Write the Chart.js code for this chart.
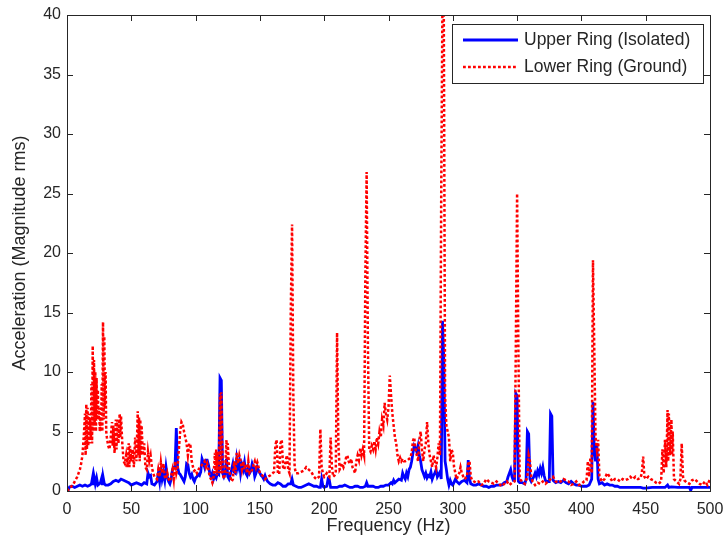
<!DOCTYPE html>
<html>
<head>
<meta charset="utf-8">
<script src="https://cdn.jsdelivr.net/npm/chart.js@4"></script>
<style>
html,body{margin:0;padding:0;background:#fff;}
#wrap{width:723px;height:539px;position:relative;}
</style>
</head>
<body>
<div id="wrap"><canvas id="c" width="723" height="539"></canvas></div>
<script>
// ---- data (frequency Hz, acceleration) ----
const seriesNames = ["Upper Ring (Isolated)", "Lower Ring (Ground)"];
const xTicks = [0, 50, 100, 150, 200, 250, 300, 350, 400, 450, 500];
const yTicks = [0, 5, 10, 15, 20, 25, 30, 35, 40];
const xTitle = "Frequency (Hz)";
const yTitle = "Acceleration (Magnitude rms)";

const upperRing = [
[0,0],[1,0.1],[2,0.35],[4,0.4],[6,0.3],[8,0.4],[10,0.5],[12,0.4],[14,0.5],[16,0.4],[18,0.5],[19,0.6],
[20,1.2],[20.5,0.5],[21,1.2],[22,0.6],[23,1.1],[24,0.5],[25,0.6],[26,0.7],[27,1.1],[27.5,0.5],[28,1.2],[29,0.6],
[30,0.5],[32,0.5],[34,0.6],[36,0.8],[38,0.9],[40,0.8],[42,1.0],[44,0.9],[46,0.8],[48,0.7],[50,0.5],[52,0.6],
[54,0.7],[56,0.6],[58,0.5],[60,0.7],[62,0.6],[63,1.5],[64,1.2],[65,1.3],[66,0.6],[68,0.5],[70,0.8],[71,1.5],
[72,0.8],[73,2.0],[74,1.0],[75,1.5],[76,0.9],[77,2.0],[78,1.2],[79,0.8],[80,0.6],[81,1.0],[82,1.8],[83,2.0],
[84,2.0],[85,5.3],[86,2.0],[87,1.5],[88,1.4],[89,1.2],[90,1.0],[91,0.8],[92,1.2],[93,2.3],[94,2.2],[95,1.5],
[96,1.2],[97,1.4],[98,1.0],[99,0.8],[100,1.1],[101,1.2],[102,1.4],[103,1.3],[104,1.6],[105,2.7],[106,2.4],
[107,2.0],[108,2.6],[109,2.6],[110,2.2],[111,1.5],[112,1.2],[113,1.5],[114,1.0],[115,1.3],[116,1.1],[117,1.5],
[118,1.4],[119,9.5],[120,9.3],[121,1.5],[122,1.2],[123,1.5],[124,2.7],[125,1.2],[126,1.0],[127,1.4],[128,1.8],
[129,2.3],[130,1.6],[131,1.5],[132,2.7],[133,2.0],[134,2.5],[135,1.5],[136,2.2],[137,1.8],[138,2.4],[139,1.5],
[140,1.3],[141,2.0],[142,1.5],[143,1.7],[144,2.3],[145,2.0],[146,1.2],[147,1.5],[148,2.0],[149,1.7],[150,1.5],
[151,1.3],[152,1.2],[153,1.0],[154,1.3],[155,1.0],[156,0.8],[158,0.6],[160,0.5],[162,0.5],[164,0.7],[166,0.6],
[168,0.4],[170,0.4],[172,0.6],[174,0.6],[175,1.0],[176,0.5],[178,0.4],[180,0.3],[182,0.3],[184,0.4],[186,0.5],
[188,0.6],[190,0.5],[192,0.4],[194,0.4],[196,0.3],[197,0.3],[198,1.0],[199,0.4],[200,0.3],[202,0.4],[203,1.0],
[204,0.9],[205,0.3],[206,0.3],[208,0.3],[210,0.3],[212,0.4],[214,0.4],[216,0.5],[218,0.4],[220,0.3],[222,0.3],
[224,0.4],[226,0.4],[228,0.3],[230,0.3],[232,0.4],[233,0.7],[234,0.4],[236,0.4],[238,0.4],[240,0.3],[242,0.3],
[244,0.4],[246,0.4],[248,0.5],[250,0.5],[252,0.7],[253,0.6],[254,0.9],[255,0.7],[256,0.8],[258,1.0],[260,0.9],
[261,1.5],[262,1.2],[263,1.0],[264,1.5],[265,1.2],[266,1.8],[267,2.0],[268,2.5],[269,3.2],[270,3.8],[271,3.6],
[272,3.3],[273,3.8],[274,3.0],[275,2.5],[276,1.8],[277,1.5],[278,1.2],[279,1.5],[280,1.1],[281,1.3],[282,1.2],
[283,1.6],[284,1.0],[285,1.3],[286,1.5],[287,1.8],[288,1.2],[289,1.4],[290,1.6],[291,1.0],[292,14.3],[293,11],
[294,2.5],[295,1.8],[296,1.0],[297,0.5],[298,0.9],[299,0.6],[300,0.5],[302,1.0],[303,0.8],[305,0.6],[307,0.8],
[309,0.9],[311,0.7],[312,2.6],[313,1.0],[314,0.6],[316,0.5],[318,0.5],[320,0.6],[322,0.5],[324,0.4],[326,0.4],
[328,0.3],[330,0.4],[332,0.4],[334,0.5],[336,0.5],[338,0.5],[340,0.7],[342,0.8],[343,1.2],[344,1.5],[345,1.8],
[346,1.2],[347,0.9],[348,0.9],[349,8.2],[350,8.0],[351,0.8],[352,0.7],[354,0.7],[356,0.6],[357,1.0],[358,5.0],
[359,4.8],[360,1.0],[361,0.8],[362,1.0],[363,1.2],[364,1.5],[365,1.2],[366,1.7],[367,1.4],[368,1.9],[369,1.5],
[370,2.0],[371,1.3],[372,0.9],[373,0.8],[374,0.8],[375,0.8],[376,6.5],[377,6.3],[378,0.9],[380,0.7],[382,0.8],
[384,0.7],[386,0.9],[388,0.7],[390,0.6],[392,0.8],[394,0.6],[396,0.5],[398,0.5],[400,0.4],[402,0.4],[404,0.4],
[406,0.5],[408,1.0],[409,7.5],[410,3.5],[411,2.5],[412,4.0],[413,1.0],[414,0.6],[416,0.7],[418,0.5],[420,0.6],
[422,0.5],[424,0.5],[426,0.4],[428,0.4],[430,0.3],[432,0.3],[434,0.3],[436,0.3],[438,0.3],[440,0.3],[442,0.3],
[444,0.3],[446,0.3],[448,0.25],[450,0.25],[455,0.3],[460,0.3],[465,0.3],[467,0.5],[468,0.3],[470,0.35],
[475,0.3],[480,0.3],[484,0.3],[485,0.05],[486,0.3],[490,0.3],[495,0.3],[500,0.3]
];

const lowerRing = [
[0,0],[2,0.2],[5,0.6],[8,1.2],[10,1.8],[11,2.3],[12,3.0],[13,4.5],
[14,6.5],[14.5,3.0],[15,7.3],[15.5,3.5],[16,7.0],[16.5,3.8],[17,6.5],[17.5,4.0],[18,6.0],[18.5,4.5],
[19,9.0],[19.5,4.0],[20,12.2],[20.5,5.0],[21,11.0],[21.5,5.5],[22,10.0],[22.5,5.0],[23,9.5],[23.5,6.0],
[24,8.5],[24.5,6.0],[25,7.0],[25.5,5.0],[26,6.0],[26.5,5.0],[27,9.0],[27.5,5.0],[28,14.2],[28.5,6.0],
[29,13.0],[29.5,7.0],[30,10.0],[30.5,5.0],[31,4.5],[32,3.8],[33,3.5],[34,4.5],[35,5.8],[35.5,3.8],[36,5.5],
[37,3.2],[38,6.0],[38.5,3.5],[39,6.0],[40,4.0],[41,6.5],[41.5,4.5],[42,6.3],[43,4.0],[44,2.5],[45,2.3],
[46,3.0],[47,2.0],[48,4.0],[48.5,2.0],[49,3.8],[50,2.5],[51,3.5],[52,2.0],[53,4.5],[54,2.5],[55,6.7],
[55.5,3.0],[56,6.2],[56.5,2.5],[57,6.0],[57.5,3.0],[58,5.5],[59,3.0],[60,4.0],[61,2.0],[62,1.8],[63,3.3],
[64,2.5],[65,3.0],[66,2.0],[67,1.5],[68,1.2],[70,1.0],[71,1.8],[72,1.2],[73,2.4],[74,1.5],[75,2.3],[76,1.2],
[77,1.0],[78,1.5],[79,1.0],[80,0.8],[82,1.8],[83,1.0],[84,2.5],[85,1.5],[86,2.0],[87,3.5],[88,5.0],[89,5.8],
[90,5.6],[91,5.0],[92,4.5],[93,4.0],[94,3.0],[95,4.0],[96,3.8],[97,2.5],[98,2.0],[99,1.7],[100,1.8],[101,1.5],
[102,1.7],[103,2.0],[105,2.2],[107,2.5],[108,2.0],[109,2.3],[110,1.8],[111,1.2],[112,1.0],[113,0.7],[114,1.2],
[115,3.2],[115.5,1.5],[116,3.5],[116.5,1.3],[117,3.3],[118,1.5],[119,8.2],[119.5,1.5],[120,8.3],[121,1.5],
[122,1.0],[123,1.5],[124,4.3],[124.5,1.5],[125,4.0],[126,2.0],[127,1.2],[128,0.8],[129,1.0],[130,2.5],
[131,1.5],[132,3.2],[133,2.3],[134,3.0],[135,2.5],[136,1.8],[137,2.5],[138,1.8],[139,2.3],[140,1.5],[141,2.5],
[142,1.5],[143,1.6],[144,1.8],[145,2.2],[146,2.5],[147,2.0],[148,2.4],[149,2.0],[150,1.5],[152,1.3],[154,1.0],
[156,1.2],[158,1.3],[160,1.5],[161,1.6],[162,3.8],[163,4.3],[164,1.5],[165,1.4],[166,4.0],[167,4.3],[168,2.0],
[169,1.8],[170,2.5],[171,3.0],[172,1.8],[173,1.5],[174,15.0],[175,22.4],[176,8.0],[177,2.0],[178,1.5],[180,1.5],
[182,1.6],[184,1.7],[186,2.0],[188,1.8],[190,1.6],[192,1.2],[194,1.0],[196,1.2],[197,5.2],[198,2.0],[199,1.5],
[200,1.2],[202,1.5],[204,1.2],[205,4.5],[206,2.0],[207,1.2],[208,1.3],[209,1.5],[210,13.3],[211,4.0],[212,1.8],
[213,2.0],[214,2.3],[215,2.0],[216,2.3],[217,2.8],[218,3.0],[219,2.5],[220,2.3],[221,2.7],[222,2.0],[223,1.8],
[224,1.5],[225,2.5],[226,3.0],[227,2.6],[228,3.6],[229,3.0],[230,3.5],[231,3.0],[232,18.0],[233,26.8],[234,12.0],
[235,3.5],[236,3.3],[237,3.8],[238,3.5],[239,4.2],[240,3.5],[241,4.5],[242,4.0],[243,5.0],[244,4.5],[245,6.0],
[246,5.5],[247,7.4],[248,6.5],[249,6.0],[250,7.0],[251,9.7],[252,8.0],[253,6.5],[254,5.5],[255,4.5],[256,4.0],
[257,3.0],[258,2.5],[259,2.8],[260,2.5],[261,2.7],[262,2.5],[263,2.5],[265,2.6],[267,2.8],[268,3.2],[269,4.2],
[270,4.5],[271,3.5],[272,3.0],[273,2.5],[274,4.3],[275,5.0],[276,3.5],[277,2.5],[278,3.5],[279,4.0],[280,5.8],
[281,4.0],[282,3.0],[283,2.5],[284,2.0],[285,3.0],[286,2.5],[287,2.0],[288,2.8],[289,4.0],[290,3.0],[291,25.0],
[292,42.0],[293,40.0],[294,8.0],[295,5.5],[296,5.0],[297,4.5],[298,2.5],[299,3.5],[300,3.2],[301,2.0],[302,1.5],
[303,1.0],[305,1.5],[306,2.0],[307,1.5],[309,1.0],[311,1.2],[312,2.3],[313,2.5],[314,1.2],[315,0.9],[318,0.7],
[320,0.8],[322,0.5],[324,0.6],[326,1.0],[328,0.8],[330,0.7],[332,0.6],[334,0.8],[336,0.6],[338,0.4],[340,0.6],
[342,0.8],[344,0.5],[346,0.7],[348,0.8],[349,12.0],[350,25.0],[351,12.0],[352,1.0],[354,0.8],[356,0.6],
[358,1.2],[359,3.0],[360,2.5],[361,1.2],[362,0.8],[364,0.5],[366,0.7],[368,0.6],[370,0.8],[372,0.6],[374,0.8],
[376,1.0],[378,1.2],[380,0.8],[382,0.7],[384,0.8],[386,1.0],[388,0.9],[390,0.8],[392,0.5],[394,0.6],[396,0.8],
[398,0.5],[400,0.6],[402,0.8],[404,0.9],[405,2.5],[406,1.2],[407,2.8],[408,1.5],[409,19.4],[410,12.0],[411,4.5],
[412,3.5],[413,4.3],[414,1.2],[416,0.8],[418,1.0],[420,1.5],[422,1.2],[424,0.8],[426,1.0],[428,1.0],[430,0.8],
[432,1.0],[434,0.9],[436,1.0],[438,1.2],[440,1.0],[442,1.2],[444,1.0],[446,1.1],[447,1.5],[448,2.9],[449,1.2],
[450,1.0],[452,1.2],[454,1.0],[456,0.9],[458,0.7],[460,0.6],[462,0.8],[463,3.5],[464,1.5],[465,4.3],[466,2.0],
[467,6.8],[467.5,2.5],[468,6.5],[469,3.0],[470,6.0],[470.5,3.0],[471,5.0],[472,1.0],[474,0.8],[476,0.6],
[477,1.0],[478,4.0],[479,1.2],[480,0.9],[482,0.7],[484,0.6],[486,0.9],[488,1.0],[490,0.8],[492,0.6],[494,0.5],
[496,0.8],[498,0.5],[500,1.0]
];

const FONT = "'Liberation Sans', Arial, Helvetica, sans-serif";
const AXIS_COLOR = "#262626";

const toXY = arr => arr.map(p => ({x: p[0], y: p[1]}));

// Draw box + inward ticks on all four sides, and legend box
const matlabAxes = {
  id: 'matlabAxes',
  afterDatasetsDraw(chart) {
    const {ctx, chartArea: a, scales} = chart;
    const xs = scales.x, ys = scales.y;
    const tl = 6;
    ctx.save();
    ctx.strokeStyle = AXIS_COLOR;
    ctx.lineWidth = 1;
    ctx.beginPath();
    xTicks.forEach(v => {
      const px = Math.round(xs.getPixelForValue(v)) + 0.5;
      ctx.moveTo(px, a.bottom); ctx.lineTo(px, a.bottom - tl);
      ctx.moveTo(px, a.top); ctx.lineTo(px, a.top + tl);
    });
    yTicks.forEach(v => {
      const py = Math.round(ys.getPixelForValue(v)) + 0.5;
      ctx.moveTo(a.left, py); ctx.lineTo(a.left + tl, py);
      ctx.moveTo(a.right, py); ctx.lineTo(a.right - tl, py);
    });
    ctx.stroke();
    ctx.strokeRect(Math.round(a.left) + 0.5, Math.round(a.top) + 0.5,
                   Math.round(a.right - a.left), Math.round(a.bottom - a.top));

    // legend
    const lx = 452, ly = 24, lw = 251, lh = 59;
    ctx.fillStyle = '#fff';
    ctx.fillRect(lx, ly, lw, lh);
    ctx.strokeStyle = AXIS_COLOR;
    ctx.strokeRect(lx + 0.5, ly + 0.5, lw, lh);
    const rows = [40, 67];
    chart.data.datasets.forEach((ds, i) => {
      const y = rows[i];
      ctx.beginPath();
      ctx.strokeStyle = ds.borderColor;
      ctx.lineWidth = ds.borderWidth;
      ctx.setLineDash(ds.borderDash || []);
      ctx.moveTo(463, y); ctx.lineTo(518, y);
      ctx.stroke();
      ctx.setLineDash([]);
      ctx.fillStyle = AXIS_COLOR;
      ctx.font = "17.5px " + FONT;
      ctx.textBaseline = 'middle';
      ctx.textAlign = 'left';
      ctx.fillText(ds.label, 524, y);
    });
    ctx.restore();
  }
};

new Chart(document.getElementById('c'), {
  type: 'line',
  data: {
    datasets: [
      {
        label: seriesNames[0],
        data: toXY(upperRing),
        borderColor: '#0000ff',
        borderWidth: 2.8,
        pointRadius: 0,
        tension: 0,
        order: 2
      },
      {
        label: seriesNames[1],
        data: toXY(lowerRing),
        borderColor: '#ff0000',
        borderWidth: 2.5,
        borderDash: [2.8, 2.2],
        pointRadius: 0,
        tension: 0,
        order: 1
      }
    ]
  },
  options: {
    responsive: false,
    animation: false,
    devicePixelRatio: 1,
    layout: { padding: { top: 15, right: 13, left: 0, bottom: 0 } },
    plugins: { legend: { display: false }, tooltip: { enabled: false } },
    scales: {
      x: {
        type: 'linear',
        min: 0, max: 500,
        afterBuildTicks: s => { s.ticks = xTicks.map(v => ({value: v})); },
        afterFit: s => { s.height = 48; s.paddingLeft = 0; s.paddingRight = 0; },
        grid: { display: false, drawTicks: false },
        border: { display: false },
        ticks: { padding: 9, color: AXIS_COLOR, font: { family: FONT, size: 16 }, maxRotation: 0, autoSkip: false },
        title: { display: true, text: xTitle, color: AXIS_COLOR, font: { family: FONT, size: 18 }, padding: { top: 0, bottom: 2 } }
      },
      y: {
        type: 'linear',
        min: 0, max: 40,
        afterBuildTicks: s => { s.ticks = yTicks.map(v => ({value: v})); },
        afterFit: s => { s.width = 67; s.paddingTop = 0; s.paddingBottom = 0; },
        grid: { display: false, drawTicks: false },
        border: { display: false },
        ticks: { padding: 6, color: AXIS_COLOR, font: { family: FONT, size: 16 }, autoSkip: false },
        title: { display: true, text: yTitle, color: AXIS_COLOR, font: { family: FONT, size: 18 }, padding: { top: 9, bottom: 0 } }
      }
    }
  },
  plugins: [matlabAxes]
});
</script>
</body>
</html>
